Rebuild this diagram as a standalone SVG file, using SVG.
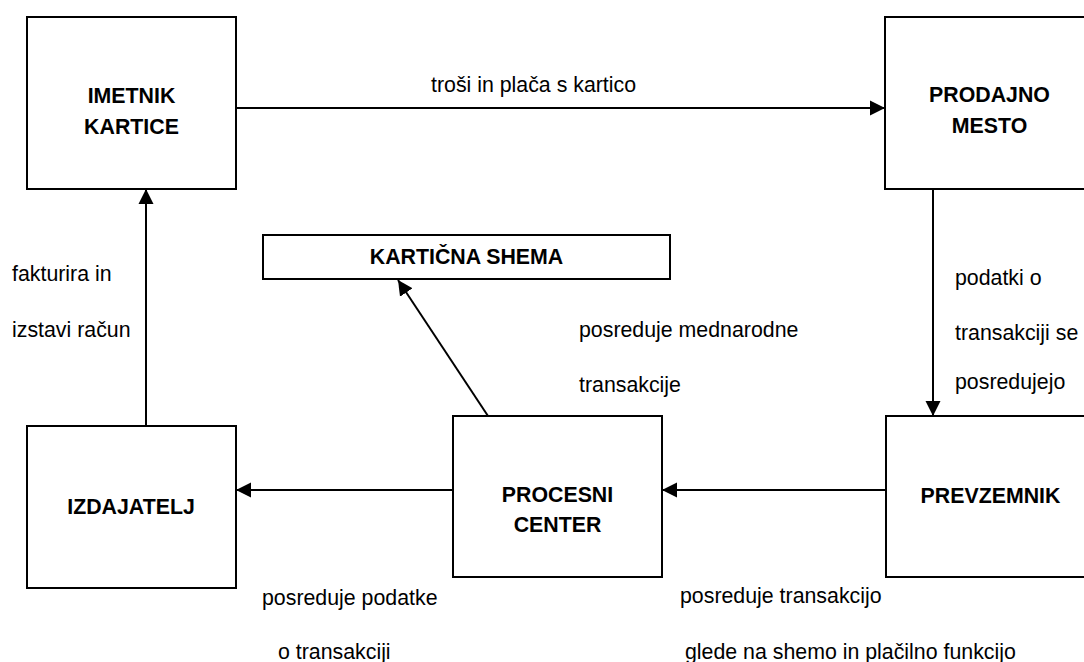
<svg xmlns="http://www.w3.org/2000/svg" width="1084" height="662" viewBox="0 0 1084 662">
<style>
.box{fill:#fff;stroke:#000;stroke-width:2}
.t{font-family:"Liberation Sans",Arial,sans-serif;font-size:21.33px;fill:#000}
.b{font-weight:bold;text-anchor:middle}
.c{stroke:#000;stroke-width:2;fill:none;marker-end:url(#ah)}
</style>
<defs>
<marker id="ah" markerUnits="userSpaceOnUse" markerWidth="16" markerHeight="16" viewBox="0 0 16 16" refX="15" refY="8" orient="auto">
<path d="M0,0.5 L15,8 L0,15.5 Z" fill="#000"/>
</marker>
</defs>
<rect width="1084" height="662" fill="#fff"/>
<g id="connectors">
<line class="c" x1="236" y1="108" x2="885" y2="108"/>
<line class="c" x1="933" y1="189" x2="933" y2="416"/>
<line class="c" x1="886" y1="490" x2="662" y2="490"/>
<line class="c" x1="453" y1="490" x2="236" y2="490"/>
<line class="c" x1="146" y1="426" x2="146" y2="189"/>
<line class="c" x1="488" y1="416" x2="398" y2="280"/>
</g>
<g id="imetnik">
<rect class="box" x="27" y="17" width="209" height="172"/>
<text class="t b" x="131.5" y="103">IMETNIK</text>
<text class="t b" x="131.5" y="134">KARTICE</text>
</g>
<g id="prodajno">
<rect class="box" x="885" y="17" width="209" height="172"/>
<text class="t b" x="989.5" y="102">PRODAJNO</text>
<text class="t b" x="989.5" y="133">MESTO</text>
</g>
<g id="shema">
<rect class="box" x="263" y="235" width="407" height="44"/>
<text class="t b" x="466.5" y="264">KARTIČNA SHEMA</text>
</g>
<g id="izdajatelj">
<rect class="box" x="27" y="426" width="209" height="162"/>
<text class="t b" x="131" y="514">IZDAJATELJ</text>
</g>
<g id="procesni">
<rect class="box" x="453" y="416" width="209" height="161"/>
<text class="t b" x="557.5" y="502">PROCESNI</text>
<text class="t b" x="557.5" y="532">CENTER</text>
</g>
<g id="prevzemnik">
<rect class="box" x="886" y="416" width="209" height="161"/>
<text class="t b" x="990.5" y="503">PREVZEMNIK</text>
</g>
<g id="labels">
<text class="t" x="431" y="92">troši in plača s kartico</text>
<text class="t" x="12" y="281">fakturira in</text>
<text class="t" x="12" y="337">izstavi račun</text>
<text class="t" x="955" y="285">podatki o</text>
<text class="t" x="955" y="340">transakciji se</text>
<text class="t" x="955" y="389">posredujejo</text>
<text class="t" x="579" y="337">posreduje mednarodne</text>
<text class="t" x="579" y="392">transakcije</text>
<text class="t" x="262" y="605">posreduje podatke</text>
<text class="t" x="278" y="659">o transakciji</text>
<text class="t" x="680" y="603">posreduje transakcijo</text>
<text class="t" x="685" y="659">glede na shemo in plačilno funkcijo</text>
</g>
</svg>
